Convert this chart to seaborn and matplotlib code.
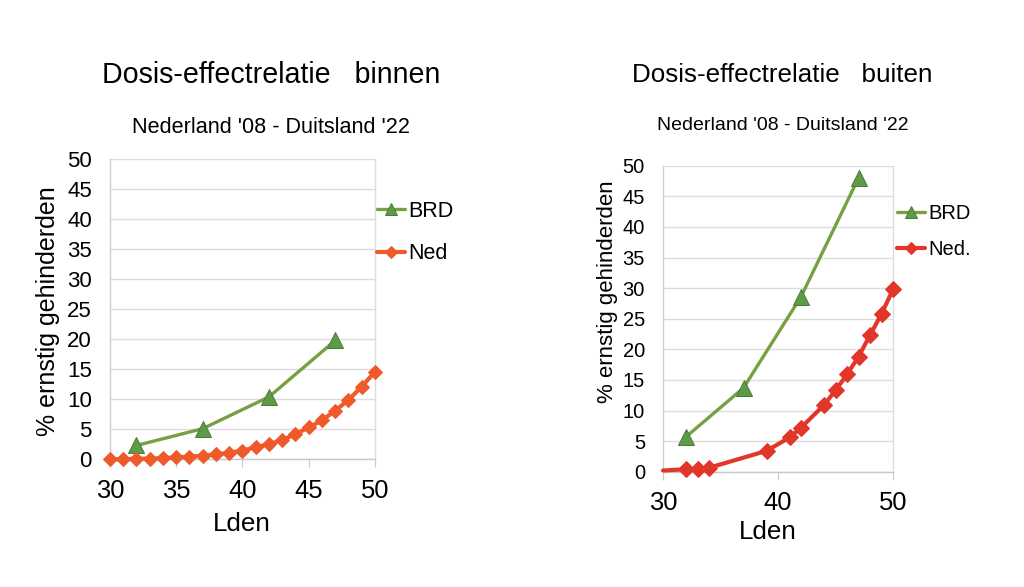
import numpy as np
import pandas as pd
import matplotlib
matplotlib.use('Agg')
import matplotlib.pyplot as plt
import seaborn as sns

sns.set_style('white')
plt.rcParams['font.family'] = ['Liberation Sans', 'DejaVu Sans']
plt.rcParams['text.color'] = 'black'
plt.rcParams['xtick.color'] = 'black'
plt.rcParams['ytick.color'] = 'black'

# data: binnen (indoor)
brd_x_in = [32, 37, 42, 47]
brd_y_in = [2.3, 5.1, 10.4, 19.8]
ned_x_in = list(range(30, 51))
ned_y_in = [0.0, 0.0, 0.1, 0.1, 0.2, 0.3, 0.45, 0.6, 0.8, 1.1, 1.45,
            2.0, 2.5, 3.2, 4.2, 5.3, 6.5, 8.1, 9.9, 12.1, 14.6]

# data: buiten (outdoor)
brd_x_out = [32, 37, 42, 47]
brd_y_out = [5.7, 13.7, 28.6, 48.0]
ned_x_out = [30, 32, 33, 34, 39, 41, 42, 44, 45, 46, 47, 48, 49, 50]
ned_y_out = [0.2, 0.4, 0.45, 0.65, 3.4, 5.6, 7.2, 10.9, 13.3, 15.9, 18.8, 22.3, 25.8, 29.8]

green_line = '#77a043'
green_face = '#5f9a48'
green_edge = '#4a7d38'
red_in = '#ee5a2a'
red_out = '#e2362b'

fig = plt.figure(figsize=(10.24, 5.87), dpi=100)
ax1 = fig.add_axes([0.1074, 0.2176, 0.2588, 0.5111])
ax2 = fig.add_axes([0.6475, 0.1964, 0.2246, 0.5213])

# left chart
sns.lineplot(x=brd_x_in, y=brd_y_in, ax=ax1, color=green_line, lw=2.4,
             marker='^', markersize=11, markerfacecolor=green_face,
             markeredgecolor=green_edge, label='BRD', zorder=3, clip_on=False)
sns.lineplot(x=ned_x_in, y=ned_y_in, ax=ax1, color=red_in, lw=3,
             marker='D', markersize=7.5, markerfacecolor=red_in,
             markeredgecolor=red_in, label='Ned', zorder=3, clip_on=False)

# right chart
sns.lineplot(x=brd_x_out, y=brd_y_out, ax=ax2, color=green_line, lw=2.4,
             marker='^', markersize=11, markerfacecolor=green_face,
             markeredgecolor=green_edge, label='BRD', zorder=3, clip_on=False)
sns.lineplot(x=ned_x_out, y=ned_y_out, ax=ax2, color=red_out, lw=3,
             marker='D', markersize=8, markerfacecolor=red_out,
             markeredgecolor=red_out, label='Ned.', markevery=list(range(1, len(ned_x_out))),
             zorder=3, clip_on=False)

for ax, step, xfs, yfs in [(ax1, 5, 18.4, 16), (ax2, 10, 18.4, 14.5)]:
    ax.set_xlim(30, 50)
    ax.set_ylim(0, 50)
    ax.set_xticks(np.arange(30, 51, step))
    ax.set_yticks(np.arange(0, 51, 5))
    ax.grid(axis='y', color='#dcdcdc', lw=1)
    ax.grid(axis='x', visible=False)
    ax.set_axisbelow(True)
    ax.spines['top'].set_visible(False)
    ax.spines['right'].set_color('#dcdcdc')
    ax.spines['left'].set_color('#d0d0d0')
    ax.spines['bottom'].set_color('#c8c8c8')
    ax.tick_params(axis='x', length=6, color='#c8c8c8', labelsize=xfs, pad=8, direction='out', bottom=True)
    ax.tick_params(axis='y', length=0, labelsize=yfs, pad=13)
    ax.set_xlabel('')
    ax.set_ylabel('')
    for sp in ax.spines.values():
        sp.set_linewidth(1)

leg1 = ax1.legend(loc='center left', bbox_to_anchor=(1.0075, 0.756), frameon=False,
                  fontsize=15.5, handlelength=1.3, handletextpad=0.15,
                  labelspacing=1.0, borderpad=0, borderaxespad=0, markerscale=0.8)
leg2 = ax2.legend(loc='center left', bbox_to_anchor=(1.017, 0.785), frameon=False,
                  fontsize=14.5, handlelength=1.4, handletextpad=0.15,
                  labelspacing=0.85, borderpad=0, borderaxespad=0, markerscale=0.8)

# titles and axis labels
fig.text(0.265, 0.872, 'Dosis-effectrelatie   binnen', ha='center', va='center', fontsize=20.6)
fig.text(0.265, 0.782, "Nederland '08 - Duitsland '22", ha='center', va='center', fontsize=15.6)
fig.text(0.764, 0.872, 'Dosis-effectrelatie   buiten', ha='center', va='center', fontsize=18.75)
fig.text(0.764, 0.787, "Nederland '08 - Duitsland '22", ha='center', va='center', fontsize=14)

fig.text(48 / 1024, 1 - 311 / 587, '% ernstig gehinderden', rotation=90, ha='center', va='center', fontsize=18)
fig.text(607 / 1024, 1 - 292 / 587, '% ernstig gehinderden', rotation=90, ha='center', va='center', fontsize=16)
fig.text(242 / 1024, 1 - 524 / 587, 'Lden', ha='center', va='center', fontsize=18.7)
fig.text(768 / 1024, 1 - 532 / 587, 'Lden', ha='center', va='center', fontsize=18.7)

fig.savefig('out.png', dpi=100, facecolor='white')
